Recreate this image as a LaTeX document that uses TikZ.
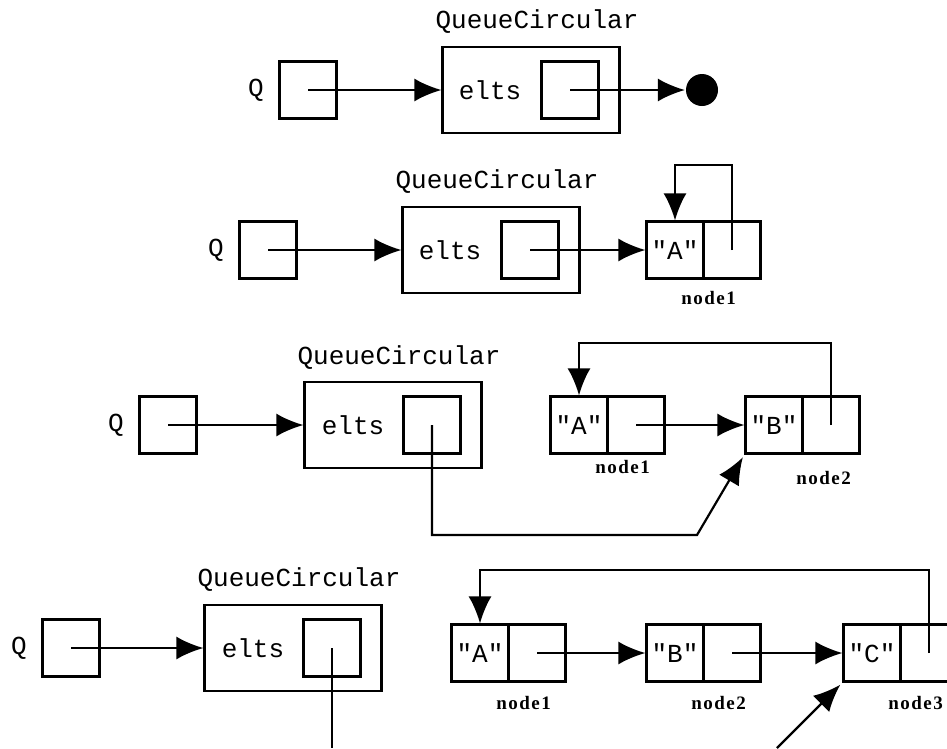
\documentclass[tikz,border=0pt]{standalone}
\usepackage{fontspec}
\setmonofont{Liberation Mono}
\newfontfamily\nodetagfont{Liberation Serif}[LetterSpace=8]
\usetikzlibrary{arrows.meta,positioning}

\begin{document}
\begin{tikzpicture}[x=1pt,y=-1pt,>={Latex[length=27pt,width=23pt]},line width=2.2pt,
    font=\fontsize{26}{30}\selectfont\ttfamily,
    cell/.style={draw,minimum size=57pt,inner sep=0pt},
    holder/.style={draw,minimum width=177pt,minimum height=86pt},
    nildot/.style={circle,fill,minimum size=32pt,inner sep=0pt},
    nodetag/.style={inner sep=0pt,font=\fontsize{19}{22}\selectfont\nodetagfont\bfseries}]
      \useasboundingbox (0,0) rectangle (947,748);

      \node[cell] (qv1) at (308,90) {};
      \node (q1) [left of=qv1,node distance=52pt] {Q};
      \node[holder] (obj1) [right of=qv1,node distance=223pt] {};
      \node (name1) [above of=obj1,node distance=68pt,xshift=6pt] {QueueCircular};
      \node[cell] (slot1) [right of=obj1,node distance=39pt] {};
      \node (elts1) [left of=slot1,node distance=80pt] {elts};
      \node[nildot] (nil1) [right of=slot1,node distance=132pt] {};

      \node[cell] (qv2) at (268,250) {};
      \node (q2) [left of=qv2,node distance=52pt] {Q};
      \node[holder] (obj2) [right of=qv2,node distance=223pt] {};
      \node (name2) [above of=obj2,node distance=68pt,xshift=6pt] {QueueCircular};
      \node[cell] (slot2) [right of=obj2,node distance=39pt] {};
      \node (elts2) [left of=slot2,node distance=80pt] {elts};
      \node[cell] (a2) [right of=obj2,node distance=184pt] {"A"};
      \node[cell] (a2n) [right of=a2,node distance=57pt] {};
      \node[nodetag] (tag21) [below=11pt of a2.south east,xshift=4pt] {node1};

      \node[cell] (qv3) at (168,425) {};
      \node (q3) [left of=qv3,node distance=52pt] {Q};
      \node[holder] (obj3) [right of=qv3,node distance=225pt] {};
      \node (name3) [above of=obj3,node distance=67pt,xshift=6pt] {QueueCircular};
      \node[cell] (slot3) [right of=obj3,node distance=39pt] {};
      \node (elts3) [left of=slot3,node distance=79pt] {elts};
      \node[cell] (a3) [right of=obj3,node distance=186pt] {"A"};
      \node[cell] (a3n) [right of=a3,node distance=57pt] {};
      \node[cell] (b3) [right of=a3,node distance=195pt] {"B"};
      \node[cell] (b3n) [right of=b3,node distance=57pt] {};
      \node[nodetag] (tag31) [below=5pt of a3.south east,xshift=14pt] {node1};
      \node[nodetag] (tag32) [below=16pt of b3.south east,xshift=20pt] {node2};
      \coordinate (bend3) at (697,535);

      \node[cell] (qv4) at (71,648) {};
      \node (q4) [left of=qv4,node distance=52pt] {Q};
      \node[holder] (obj4) [right of=qv4,node distance=222pt] {};
      \node (name4) [above of=obj4,node distance=68pt,xshift=6pt] {QueueCircular};
      \node[cell] (slot4) [right of=obj4,node distance=39pt] {};
      \node (elts4) [left of=slot4,node distance=79pt] {elts};
      \node[cell] (a4) [right of=obj4,node distance=187pt,yshift=-5pt] {"A"};
      \node[cell] (a4n) [right of=a4,node distance=57pt] {};
      \node[cell] (b4) [right of=a4,node distance=195pt] {"B"};
      \node[cell] (b4n) [right of=b4,node distance=57pt] {};
      \node[cell] (c4) [right of=b4,node distance=197pt] {"C"};
      \node[cell] (c4n) [right of=c4,node distance=57pt] {};
      \node[nodetag] (tag41) [below=13pt of a4.south east,xshift=14pt] {node1};
      \node[nodetag] (tag42) [below=13pt of b4.south east,xshift=14pt] {node2};
      \node[nodetag] (tag43) [below=13pt of c4.south east,xshift=14pt] {node3};
      \coordinate (cut4) at (332,748);
      \coordinate (tail4) at (777,748);

      \path[->]
      (qv1.center) edge (obj1)
      (slot1.center) edge (nil1)

      (qv2.center) edge (obj2)
      (slot2.center) edge (a2)

      (qv3.center) edge (obj3)
      (a3n.center) edge (b3)

      (qv4.center) edge (obj4)
      (a4n.center) edge (b4)
      (b4n.center) edge (c4)
      ;

      \draw[->] (a2n.center) -- ++(0,-85) -| (a2.north);
      \draw[->] (b3n.center) -- ++(0,-82) -| (a3.north);
      \draw[->] (c4n.center) -- ++(0,-83) -| (a4.north);
      \draw[->,shorten >=3pt] (slot3.center) |- (bend3) -- (b3.south west);
      \draw (slot4.center) -- (cut4);
      \draw[->,shorten >=3pt] (tail4) -- (c4.south west);
    \end{tikzpicture}
\end{document}
